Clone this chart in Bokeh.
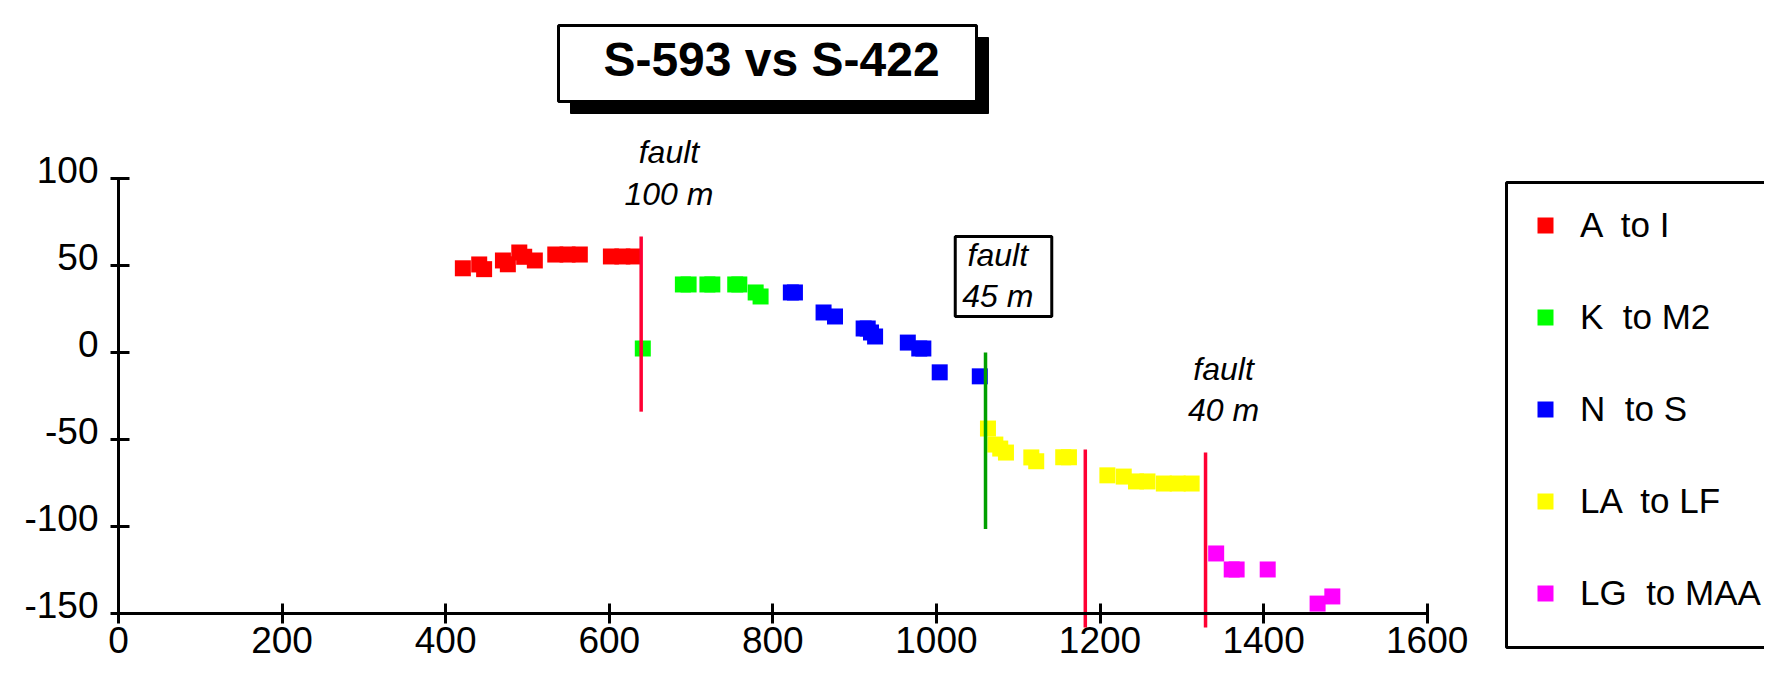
from bokeh.plotting import figure
from bokeh.models import Range1d, FixedTicker, Label, BoxAnnotation, Legend, LegendItem, LinearAxis
from bokeh.embed import file_html
from bokeh.resources import INLINE

# ---------------- data ----------------
title_text = "S-593 vs S-422"
series_names = ["A  to I", "K  to M2", "N  to S", "LA  to LF", "LG  to MAA"]

red_x = [421, 441, 447, 470, 476, 490, 496, 509, 534, 549, 564, 602, 616, 630]
red_y = [48.4, 50.6, 47.9, 52.9, 50.7, 57.5, 55.0, 52.9, 56.3, 56.3, 56.3, 55.2, 55.2, 55.2]

green_x = [641, 690, 697, 720, 726, 754, 759, 779, 785]
green_y = [2.3, 39.1, 39.1, 39.1, 39.1, 39.1, 39.1, 34.5, 32.2]

blue_x = [822, 827, 862, 876, 911, 916, 920, 925, 965, 979, 984, 1004, 1053]
blue_y = [34.5, 34.5, 23.0, 20.7, 13.8, 13.8, 11.5, 9.2, 5.7, 2.3, 2.3, -11.4, -13.7]

yellow_x = [1063, 1072, 1078, 1085, 1116, 1122, 1155, 1162, 1209, 1229, 1244, 1258, 1278, 1295, 1312]
yellow_y = [-43.7, -52.9, -55.2, -57.5, -60.3, -62.5, -60.2, -60.2, -70.6, -71.3, -74.1, -74.1,
            -75.3, -75.3, -75.3]

magenta_x = [1342, 1361, 1367, 1405, 1466, 1484]
magenta_y = [-115.5, -124.7, -124.7, -124.7, -144.3, -140.2]

fault_x = [639, 1060, 1182, 1329]
fault_top = [66.7, 0, -55.7, -57.5]
fault_bottom = [-34, -101.5, -158, -158]

fault_labels = ["fault\n100 m", "fault\n45 m", "fault\n40 m"]
fault_label_x = [673, 1075, 1351]
fault_label_y = [125.5, 66.5, 1.1]

x_ticks = [0, 200, 400, 600, 800, 1000, 1200, 1400, 1600]
x_tick_labels = ["0", "200", "400", "600", "800", "1000", "1200", "1400", "1600"]
y_ticks = [-150, -100, -50, 0, 50, 100]
y_tick_labels = ["-150", "-100", "-50", "0", "50", "100"]

# ---------------- layout / styles ----------------
series_colors = ["#FF0000", "#00FF00", "#0000FF", "#FFFF00", "#FF00FF"]
fault_colors = ["#FF0033", "#00A000", "#FF0033", "#FF0033"]
FONT = "Liberation Sans"

W, H = 1764, 661
# pixel positions of the axis ends (frame covers the whole canvas)
PX_X0, PX_X1 = 118.0, 1426.7      # x = 0 and x = 1600
PX_YT, PX_YB = 178.0, 613.0       # y = 100 and y = -150
sx = (PX_X1 - PX_X0) / 1600.0
sy = (PX_YB - PX_YT) / 250.0
x_start = 0 - PX_X0 / sx
x_end = 1600 + (W - PX_X1) / sx
y_end = 100 + PX_YT / sy
y_start = -150 - (H - PX_YB) / sy
LABEL_RAISE = 5.0                 # y tick labels sit a little above their ticks

p = figure(width=W, height=H, output_backend="svg", toolbar_location=None,
           x_range=Range1d(x_start, x_end), y_range=Range1d(y_start, y_end),
           x_axis_type=None, y_axis_type=None, min_border=0)
p.grid.visible = False
p.outline_line_color = None
p.background_fill_color = "white"
p.border_fill_color = "white"

def style_axis(ax):
    ax.axis_line_width = 3
    ax.axis_line_color = "black"
    ax.major_tick_line_width = 3
    ax.major_tick_line_color = "black"
    ax.minor_tick_line_color = None
    ax.major_label_text_font = FONT
    ax.major_label_text_font_size = "37px"
    ax.major_label_text_color = "black"

xaxis = LinearAxis(fixed_location=-150, bounds=(0, 1600), ticker=FixedTicker(ticks=x_ticks),
                   major_label_overrides=dict(zip(x_ticks, x_tick_labels)))
style_axis(xaxis)
xaxis.major_tick_in = 10
xaxis.major_tick_out = 10
xaxis.major_label_standoff = 3

# y axis: line and ticks only
yaxis = LinearAxis(fixed_location=0, bounds=(-150, 100), ticker=FixedTicker(ticks=y_ticks),
                   major_label_overrides={t: "" for t in y_ticks})
style_axis(yaxis)
yaxis.major_tick_in = 11
yaxis.major_tick_out = 8
yaxis.major_label_text_alpha = 0

# y axis tick labels, raised slightly above the ticks as in the original
label_ticks = [t + LABEL_RAISE for t in y_ticks]
ylabels = LinearAxis(fixed_location=0, bounds=(-160, 120), ticker=FixedTicker(ticks=label_ticks),
                     major_label_overrides=dict(zip(label_ticks, y_tick_labels)))
style_axis(ylabels)
ylabels.axis_line_color = None
ylabels.major_tick_line_color = None
ylabels.major_tick_in = 0
ylabels.major_tick_out = 8
ylabels.major_label_standoff = 12

p.add_layout(xaxis, "below")
p.add_layout(yaxis, "left")
p.add_layout(ylabels, "left")

# series
renderers = []
for xs, ys, c in zip([red_x, green_x, blue_x, yellow_x, magenta_x],
                     [red_y, green_y, blue_y, yellow_y, magenta_y], series_colors):
    r = p.scatter(xs, ys, marker="square", size=16, fill_color=c, line_color=None)
    renderers.append(r)

# fault lines (drawn on top of markers)
p.segment(x0=fault_x, y0=fault_top, x1=fault_x, y1=fault_bottom,
          line_color=fault_colors, line_width=3.5)

# box around "fault 45 m"
p.add_layout(BoxAnnotation(left=1023, right=1141, top=66.7, bottom=20.7,
                           fill_color="white", fill_alpha=1, line_color="black",
                           line_alpha=1, line_width=3))

for t, lx, ly in zip(fault_labels, fault_label_x, fault_label_y):
    p.add_layout(Label(x=lx, y=ly, text=t, text_align="center", text_baseline="top",
                       text_font=FONT, text_font_style="italic", text_font_size="32px",
                       text_line_height=1.15, text_color="black"))

def screen_box(l, r, t, b, **kw):
    return BoxAnnotation(left=l, right=r, top=H - t, bottom=H - b,
                         left_units="screen", right_units="screen",
                         top_units="screen", bottom_units="screen",
                         fill_alpha=1, line_alpha=1, **kw)

# title box with shadow
p.add_layout(screen_box(570, 988, 37, 113, fill_color="black", line_color="black", line_width=1))
p.add_layout(screen_box(558, 976, 25, 101, fill_color="white", line_color="black", line_width=3))
p.add_layout(Label(x=771, y=H - 59, x_units="screen", y_units="screen", text=title_text,
                   text_align="center", text_baseline="middle", text_font=FONT,
                   text_font_style="bold", text_font_size="48px", text_color="black"))

# legend frame
LEG_L = 1506
p.add_layout(screen_box(LEG_L, 1800, 182, 647, fill_color="white", line_color="black", line_width=3))

legend = Legend(items=[LegendItem(label=n, renderers=[r]) for n, r in zip(series_names, renderers)],
                location=(LEG_L, H - 636), glyph_width=40, glyph_height=48, label_height=48,
                label_standoff=15, spacing=44, padding=19, margin=0,
                border_line_alpha=0, background_fill_alpha=0,
                label_text_font=FONT, label_text_font_size="35px", label_text_color="black")
p.add_layout(legend)

open("out.html", "w").write(file_html(p, INLINE))
